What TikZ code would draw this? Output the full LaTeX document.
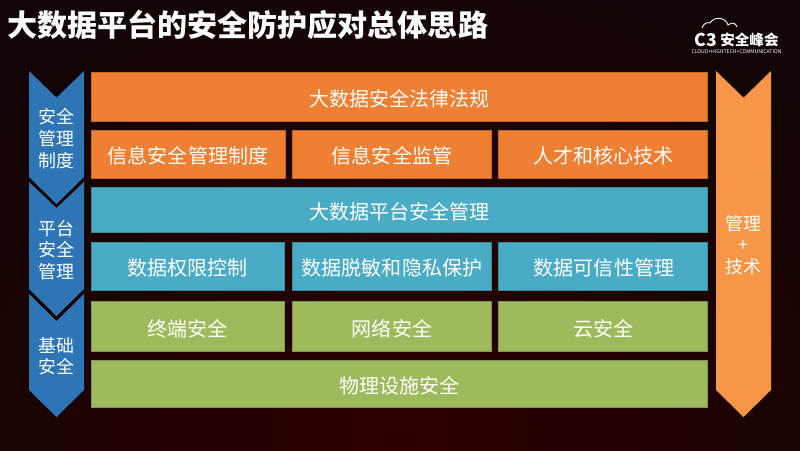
\documentclass[tikz,border=0pt]{standalone}
\usepackage{fontspec}
\setmainfont{Noto Sans CJK SC}
\definecolor{pageback}{HTML}{120404}
\definecolor{pageglow}{HTML}{2E0000}
\definecolor{lawcolor}{HTML}{EF7F33}
\definecolor{platcolor}{HTML}{4AABC6}
\definecolor{basecolor}{HTML}{9DBB5C}
\definecolor{leftcolor}{HTML}{2E75B6}
\definecolor{rightcolor}{HTML}{F79646}
\tikzset{
    lawrow/.style={fill=lawcolor, draw=lawcolor!80!black, line width=0.25pt},
    platrow/.style={fill=platcolor, draw=platcolor!80!black, line width=0.25pt},
    baserow/.style={fill=basecolor, draw=basecolor!80!black, line width=0.25pt},
    cellbox/.style={inner sep=0, text=white, font=\fontsize{11.4}{13}\selectfont},
    sidetext/.style={align=center, text=white, inner sep=0, font=\fontsize{10.2}{12.3}\selectfont},
}
\begin{document}
\begin{tikzpicture}[x=0.02cm,y=-0.02cm]
    \useasboundingbox (0,0) rectangle (800,450);
    \fill[pageback] (0,0) rectangle (800,450);
    \begin{scope}
        \clip (0,0) rectangle (800,450);
        \shade[inner color=pageglow, outer color=pageback] (400,440) ellipse (560 and 470);
    \end{scope}
    % title and logo
    \node[anchor=west, text=white, inner sep=0] (title) at (7,25) {\fontsize{17.1}{20}\selectfont\bfseries 大数据平台的安全防护应对总体思路};
    \draw[white, line width=0.5pt] (702,28) .. controls (704,23) and (707,22) .. (710,23) .. controls (714,16) and (726,17) .. (728,25) .. controls (733,21) and (736,24) .. (737,27);
    \node[anchor=west, text=white, inner sep=0] (logoname) at (694,40) {\fontsize{10}{10}\selectfont\bfseries C3};
    \node[anchor=east, text=white, inner sep=0] (logo) at (779,40) {\fontsize{8.3}{9}\selectfont\bfseries 安全峰会};
    \node[text=white, inner sep=0] (logosub) at (736.5,51.5) {\fontsize{2.9}{3}\selectfont CLOUD+HIGHTECH+COMMUNICATION};
    % left arrows
    \fill[leftcolor] (29,71) -- (56.5,97.7) -- (84,71) -- (84,177) -- (56.5,204) -- (29,177) -- cycle;
    \fill[leftcolor] (29,182) -- (56.5,208) -- (84,182) -- (84,289) -- (56.5,316) -- (29,289) -- cycle;
    \fill[leftcolor] (29,294) -- (56.5,321) -- (84,294) -- (84,390) -- (56.5,417) -- (29,390) -- cycle;
    \node[sidetext] (mgmt) at (56.5,138.5) {安全\\管理\\制度};
    \node[sidetext] (plat) at (56.5,250) {平台\\安全\\管理};
    \node[sidetext] (base) at (56.5,356) {基础\\安全};
    % right arrow
    \fill[rightcolor] (716,71) -- (743.5,97.7) -- (771,71) -- (771,390) -- (743.5,417) -- (716,390) -- cycle;
    \node[sidetext] (both) at (743.5,245) {管理\\+\\技术};
    % law rows
    \draw[lawrow] (91,72.5) rectangle (707,121);
    \draw[lawrow] (91,130) rectangle (285,178.5);
    \draw[lawrow] (292,130) rectangle (491,178.5);
    \draw[lawrow] (498,130) rectangle (707,178.5);
    \node[cellbox] (law) at (399.5,98.5) {大数据安全法律法规};
    \node[cellbox] (policy) at (188,155.5) {信息安全管理制度};
    \node[cellbox] (watch) at (392,155.5) {信息安全监管};
    \node[cellbox] (talent) at (603.5,155.5) {人才和核心技术};
    % platform rows
    \draw[platrow] (91,187) rectangle (707,232);
    \draw[platrow] (91,242) rectangle (284,290.5);
    \draw[platrow] (292,242) rectangle (491,290.5);
    \draw[platrow] (498,242) rectangle (707,290.5);
    \node[cellbox] (platform) at (399.5,211.5) {大数据平台安全管理};
    \node[cellbox] (access) at (187.5,267.5) {数据权限控制};
    \node[cellbox] (privacy) at (392,267.5) {数据脱敏和隐私保护};
    \node[cellbox] (trust) at (604,267.5) {数据可信性管理};
    % base rows
    \draw[baserow] (91,301.5) rectangle (284,351.5);
    \draw[baserow] (292,301.5) rectangle (491,351.5);
    \draw[baserow] (498,301.5) rectangle (707,351.5);
    \draw[baserow] (91,360) rectangle (707,407.5);
    \node[cellbox] (terminal) at (187.5,328.5) {终端安全};
    \node[cellbox] (network) at (392,328.5) {网络安全};
    \node[cellbox] (cloud) at (603.5,328.5) {云安全};
    \node[cellbox] (physical) at (399.5,385.5) {物理设施安全};
\end{tikzpicture}
\end{document}
